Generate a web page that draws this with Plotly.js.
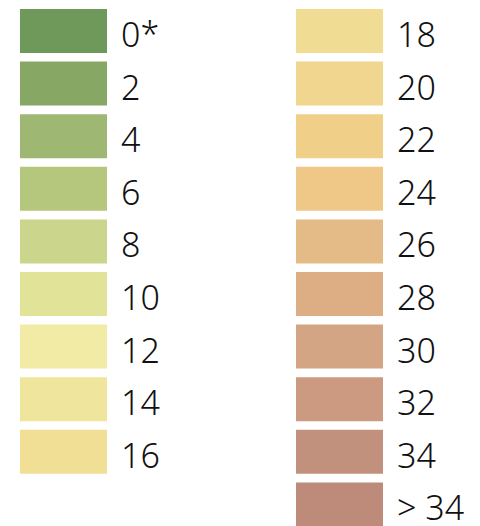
<!DOCTYPE html>
<html>
<head>
<meta charset="utf-8">
<script src="https://cdn.plot.ly/plotly-3.0.1.min.js"></script>
<style>html,body{margin:0;padding:0;background:#fff;}#chart{width:480px;height:526px;}</style>
</head>
<body>
<div id="chart"></div>
<script>
var leftLabels = ["0*", "2", "4", "6", "8", "10", "12", "14", "16"];
var leftColors = ["#6F995A", "#87A864", "#9EB873", "#B4C77D", "#CBD58B", "#E1E498", "#F2EBA5", "#F0E59D", "#F1DF96"];
var rightLabels = ["18", "20", "22", "24", "26", "28", "30", "32", "34", "> 34"];
var rightColors = ["#F1DC94", "#F0D68E", "#F0D089", "#EFC787", "#E4BB86", "#DDAE84", "#D4A585", "#CB9A80", "#C2917D", "#BE8A7A"];

var boxW = 87;
function rows(n){ var a=[]; for(var i=0;i<n;i++) a.push(i); return a; }
function fill(n,v){ var a=[]; for(var i=0;i<n;i++) a.push(v); return a; }

var annotations = [];
function column(labels, colors, x0){
  var r = rows(labels.length);
  r.forEach(function(i){
    annotations.push({x:x0+boxW+12, y:i, xref:"x", yref:"y", text:labels[i], showarrow:false,
      xanchor:"left", yanchor:"middle", yshift:-3,
      font:{family:"Noto Sans, Open Sans, sans-serif", size:34, weight:300, color:"#111"}});
  });
  return {type:"bar", orientation:"h", y:r, x:fill(r.length, boxW), base:x0,
     width:0.8365, marker:{color:colors, line:{width:0}}, hoverinfo:"skip", showlegend:false};
}

var data = [column(leftLabels, leftColors, 20), column(rightLabels, rightColors, 296)];
var layout = {
  width:480, height:526, margin:{l:0,r:0,t:0,b:0},
  paper_bgcolor:"#fff", plot_bgcolor:"#fff", barmode:"overlay",
  xaxis:{range:[0,480], visible:false, fixedrange:true},
  yaxis:{range:[9.41,-0.589], visible:false, fixedrange:true},
  annotations:annotations,
  showlegend:false
};
Plotly.newPlot("chart", data, layout, {staticPlot:true, displayModeBar:false});
</script>
</body>
</html>
